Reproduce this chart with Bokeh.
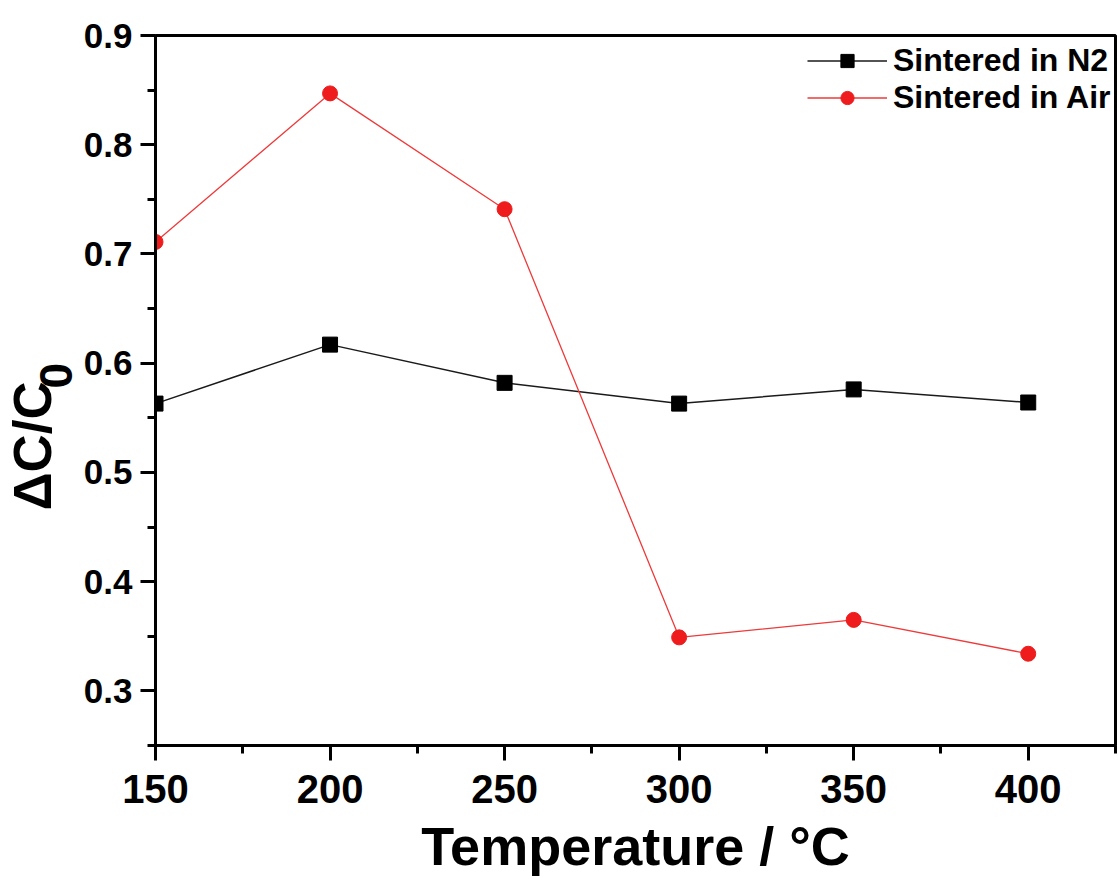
from bokeh.plotting import figure
from bokeh.models import Range1d, FixedTicker, Legend, LegendItem, Title
from bokeh.embed import file_html
from bokeh.resources import INLINE

# ---- data ----
temperature = [150, 200, 250, 300, 350, 400]
n2_values = [0.563, 0.617, 0.582, 0.563, 0.576, 0.564]
air_values = [0.711, 0.847, 0.741, 0.349, 0.365, 0.334]

x_ticks = [150, 200, 250, 300, 350, 400]
x_minor = [175, 225, 275, 325, 375, 425]
y_ticks = [0.3, 0.4, 0.5, 0.6, 0.7, 0.8, 0.9]
y_minor = [0.25, 0.35, 0.45, 0.55, 0.65, 0.75, 0.85]

series_labels = ["Sintered in N2", "Sintered in Air"]
x_title = "Temperature / °C"
y_title_main = "ΔC/C"
y_title_sub = "0"

FONT = "Liberation Sans"

p = figure(
    frame_width=960, frame_height=710,
    x_range=Range1d(150, 425), y_range=Range1d(0.25, 0.9),
    output_backend="svg", toolbar_location=None,
    min_border_left=155, min_border_top=35, min_border_right=2, min_border_bottom=0,
    background_fill_color="white", border_fill_color="white",
)
p.title.visible = False
p.grid.visible = False
p.outline_line_color = "black"
p.outline_line_width = 3

p.xaxis.ticker = FixedTicker(ticks=x_ticks, minor_ticks=x_minor)
p.yaxis.ticker = FixedTicker(ticks=y_ticks, minor_ticks=y_minor)

for ax in (p.xaxis, p.yaxis):
    ax.axis_line_width = 3
    ax.axis_line_color = "black"
    ax.major_tick_line_width = 3
    ax.minor_tick_line_width = 3
    ax.major_tick_in = 0
    ax.minor_tick_in = 0
    ax.major_tick_out = 15
    ax.minor_tick_out = 8
    ax.major_label_text_font = FONT
    ax.major_label_text_font_style = "bold"
    ax.major_label_text_color = "black"

p.xaxis.major_label_text_font_size = "40px"
p.yaxis.major_label_text_font_size = "35px"
p.xaxis.major_label_standoff = 14
p.yaxis.major_label_standoff = 8

p.xaxis.axis_label = x_title
p.xaxis.axis_label_text_font = FONT
p.xaxis.axis_label_text_font_style = "bold"
p.xaxis.axis_label_text_font_size = "54px"
p.xaxis.axis_label_text_color = "black"
p.xaxis.axis_label_standoff = 10

# y-axis title with a large subscript: two titles in the left border
sub_title = Title(text=y_title_sub, align="left", offset=357, vertical_align="bottom",
                  standoff=18, text_font=FONT, text_font_style="bold",
                  text_font_size="46px", text_color="black")
main_title = Title(text=y_title_main, align="left", offset=235, vertical_align="bottom",
                   standoff=-67, text_font=FONT, text_font_style="bold",
                   text_font_size="53px", text_color="black")
p.add_layout(sub_title, "left")
p.add_layout(main_title, "left")

# series
l1 = p.line(temperature, n2_values, line_color="#1a1a1a", line_width=1.5)
s1 = p.scatter(temperature, n2_values, marker="square", size=15,
               fill_color="black", line_color="black")
l2 = p.line(temperature, air_values, line_color="#ee3a3a", line_width=1.3)
s2 = p.scatter(temperature, air_values, marker="circle", size=15,
               fill_color="#ee1c1c", line_color="#ee1c1c")

legend = Legend(
    items=[LegendItem(label=series_labels[0], renderers=[l1, s1]),
           LegendItem(label=series_labels[1], renderers=[l2, s2])],
    location=(652, 629), border_line_color=None, background_fill_alpha=0,
    label_text_font=FONT, label_text_font_style="bold", label_text_font_size="32px",
    label_text_color="black",
    glyph_width=80, glyph_height=33, label_height=33, spacing=-9, padding=10, margin=0,
    label_standoff=6,
)
p.add_layout(legend)

open("out.html", "w").write(file_html(p, INLINE))
